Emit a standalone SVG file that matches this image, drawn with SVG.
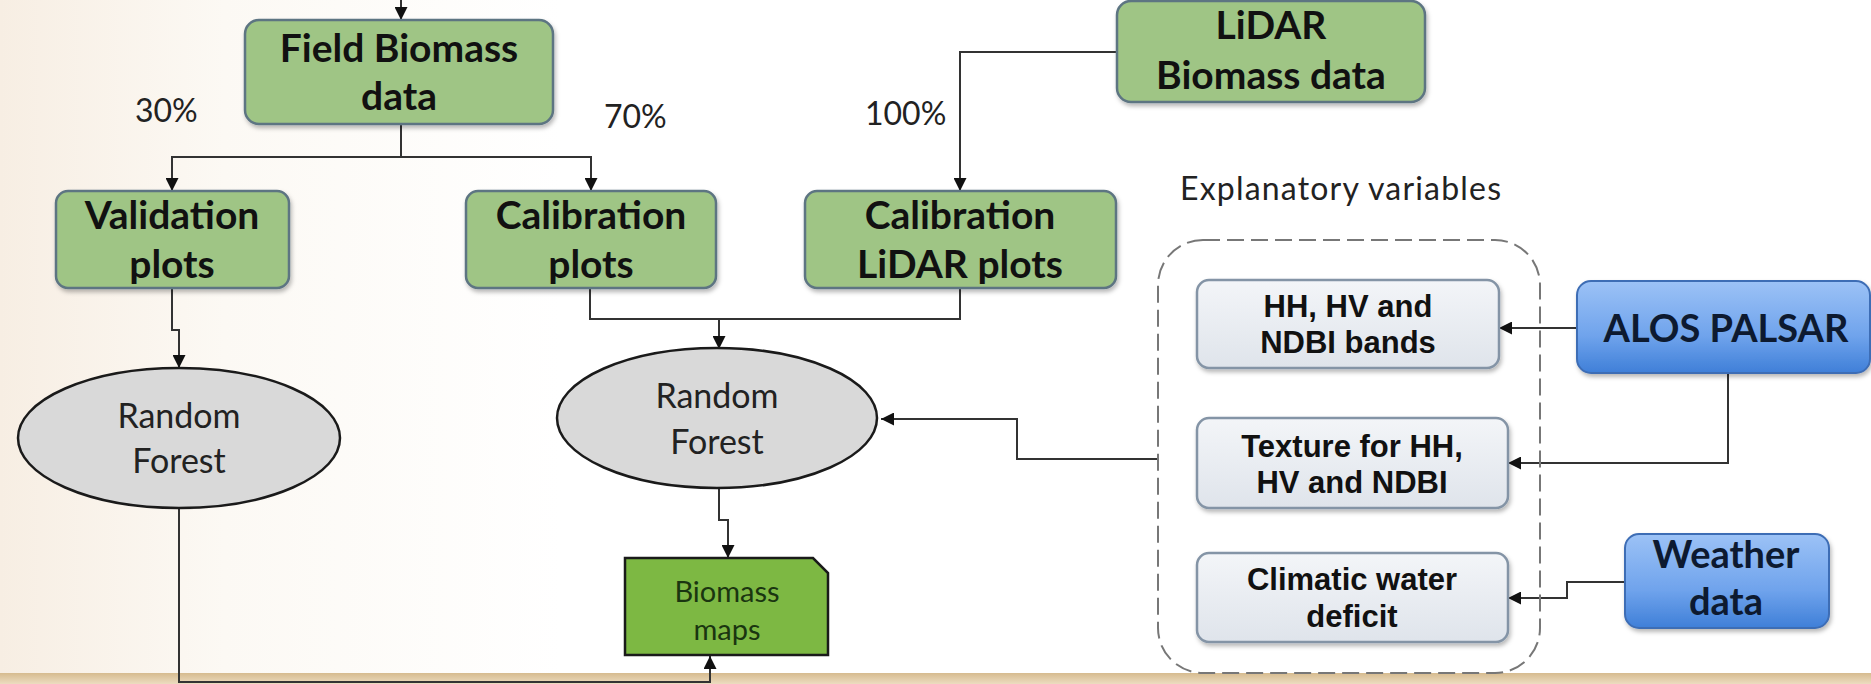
<svg xmlns="http://www.w3.org/2000/svg" width="1871" height="684" viewBox="0 0 1871 684">
<defs>
<linearGradient id="bg" x1="0" y1="0" x2="1" y2="0">
<stop offset="0" stop-color="#f7eee3"/>
<stop offset="0.12" stop-color="#fcf9f4"/>
<stop offset="0.3" stop-color="#ffffff"/>
<stop offset="1" stop-color="#ffffff"/>
</linearGradient>
<linearGradient id="strip" x1="0" y1="0" x2="0" y2="1">
<stop offset="0" stop-color="#d6bb8f"/>
<stop offset="1" stop-color="#ecdcc0"/>
</linearGradient>
<linearGradient id="blue" x1="0" y1="0" x2="0" y2="1">
<stop offset="0" stop-color="#9cc2f6"/>
<stop offset="0.6" stop-color="#6fa3ec"/>
<stop offset="1" stop-color="#3f7fd8"/>
</linearGradient>
<linearGradient id="grey" x1="0" y1="0" x2="0" y2="1">
<stop offset="0" stop-color="#f3f5f8"/>
<stop offset="1" stop-color="#dfe4eb"/>
</linearGradient>
<filter id="sh" x="-10%" y="-10%" width="120%" height="130%">
<feDropShadow dx="1.5" dy="3" stdDeviation="2" flood-color="#000" flood-opacity="0.28"/>
</filter>
<marker id="ah" markerUnits="userSpaceOnUse" markerWidth="14" markerHeight="13" refX="13" refY="6.5" orient="auto">
<path d="M0,0 L13,6.5 L0,13 Z" fill="#111"/>
</marker>
</defs>
<style>
.gbox{fill:#9fc585;stroke:#5d7482;stroke-width:2.5;filter:url(#sh)}
.lbox{fill:url(#grey);stroke:#8494a6;stroke-width:2.5;filter:url(#sh)}
.bbox{fill:url(#blue);stroke:#3e6db5;stroke-width:2;filter:url(#sh)}
.ell{fill:#d9d9d9;stroke:#1a1a1a;stroke-width:2.5}
.gt{font-family:Lato,"Open Sans",sans-serif;font-weight:700;font-size:39px;fill:#111;text-anchor:middle}
.bt{font-family:Lato,"Open Sans",sans-serif;font-weight:700;font-size:38px;fill:#0d1a30;text-anchor:middle}
.at{font-family:"Liberation Sans",Arial,sans-serif;font-weight:700;font-size:31px;fill:#111;text-anchor:middle}
.rt{font-family:Lato,"Open Sans",sans-serif;font-size:34px;fill:#222;text-anchor:middle}
.pt{font-family:Lato,"Open Sans",sans-serif;font-size:32px;fill:#222}
.mt{font-family:Lato,"Open Sans",sans-serif;font-size:29px;fill:#1a3510;text-anchor:middle}
.con{fill:none;stroke:#333;stroke-width:2}
</style>
<rect x="0" y="0" width="1871" height="684" fill="url(#bg)"/>
<rect x="0" y="673" width="1871" height="11" fill="url(#strip)"/>

<g id="connectors">
<path class="con" d="M401,0 V20" marker-end="url(#ah)"/>
<path class="con" d="M401,124 V157 H172 V191" marker-end="url(#ah)"/>
<path class="con" d="M401,157 H591 V191" marker-end="url(#ah)"/>
<path class="con" d="M1117,52 H960 V191" marker-end="url(#ah)"/>
<path class="con" d="M172,288 V330 H179 V368" marker-end="url(#ah)"/>
<path class="con" d="M590,288 V319 H960 V288"/>
<path class="con" d="M719,319 V349" marker-end="url(#ah)"/>
<path class="con" d="M1157,459 H1017 V419 H881" marker-end="url(#ah)"/>
<path class="con" d="M719,488 V520 H728 V558" marker-end="url(#ah)"/>
<path class="con" d="M179,508 V682 H710 V656" marker-end="url(#ah)"/>
<path class="con" d="M1576,328 H1499" marker-end="url(#ah)"/>
<path class="con" d="M1728,373 V463 H1508" marker-end="url(#ah)"/>
<path class="con" d="M1625,582 H1567 V598 H1508" marker-end="url(#ah)"/>
</g>

<g id="field-biomass">
<rect class="gbox" x="245" y="20" width="308" height="104" rx="14"/>
<text class="gt" x="399" y="62">Field Biomass</text>
<text class="gt" x="399" y="110">data</text>
</g>
<g id="label-30"><text class="pt" x="135" y="122">30%</text></g>
<g id="label-70"><text class="pt" x="604" y="128">70%</text></g>
<g id="label-100"><text class="pt" x="865" y="125">100%</text></g>

<g id="validation-plots">
<rect class="gbox" x="56" y="191" width="233" height="97" rx="12"/>
<text class="gt" x="172" y="229">Validation</text>
<text class="gt" x="172" y="278">plots</text>
</g>
<g id="calibration-plots">
<rect class="gbox" x="466" y="191" width="250" height="97" rx="12"/>
<text class="gt" x="591" y="229">Calibration</text>
<text class="gt" x="591" y="278">plots</text>
</g>
<g id="calibration-lidar-plots">
<rect class="gbox" x="805" y="191" width="311" height="97" rx="12"/>
<text class="gt" x="960" y="229">Calibration</text>
<text class="gt" x="960" y="278">LiDAR plots</text>
</g>
<g id="lidar-biomass">
<rect class="gbox" x="1117" y="1" width="308" height="101" rx="14"/>
<text class="gt" x="1271" y="39">LiDAR</text>
<text class="gt" x="1271" y="89">Biomass data</text>
</g>

<g id="random-forest-1">
<ellipse class="ell" cx="179" cy="438" rx="161" ry="70"/>
<text class="rt" x="179" y="428">Random</text>
<text class="rt" x="179" y="473">Forest</text>
</g>
<g id="random-forest-2">
<ellipse class="ell" cx="717" cy="418" rx="160" ry="70"/>
<text class="rt" x="717" y="408">Random</text>
<text class="rt" x="717" y="454">Forest</text>
</g>
<g id="biomass-maps">
<path d="M625,558 H813 L828,573 V655 H625 Z" fill="#7db843" stroke="#1a1a1a" stroke-width="2.5"/>
<text class="mt" x="727" y="602">Biomass</text>
<text class="mt" x="727" y="640">maps</text>
</g>

<g id="explanatory-variables">
<text class="pt" x="1180" y="200" style="font-size:32px" textLength="321">Explanatory variables</text>
<rect x="1158" y="240" width="382" height="433" rx="45" fill="none" stroke="#777" stroke-width="2" stroke-dasharray="17,7"/>
</g>
<g id="hh-hv-ndbi">
<rect class="lbox" x="1197" y="280" width="302" height="88" rx="12"/>
<text class="at" x="1348" y="317">HH, HV and</text>
<text class="at" x="1348" y="353">NDBI bands</text>
</g>
<g id="texture">
<rect class="lbox" x="1197" y="418" width="311" height="90" rx="12"/>
<text class="at" x="1352" y="457">Texture for HH,</text>
<text class="at" x="1352" y="493">HV and NDBI</text>
</g>
<g id="climatic-water-deficit">
<rect class="lbox" x="1197" y="553" width="311" height="89" rx="12"/>
<text class="at" x="1352" y="590">Climatic water</text>
<text class="at" x="1352" y="627">deficit</text>
</g>
<g id="alos-palsar">
<rect class="bbox" x="1577" y="281" width="293" height="92" rx="14"/>
<text class="bt" x="1726" y="342">ALOS PALSAR</text>
</g>
<g id="weather-data">
<rect class="bbox" x="1625" y="534" width="204" height="94" rx="14"/>
<text class="bt" x="1726" y="568">Weather</text>
<text class="bt" x="1726" y="615">data</text>
</g>
</svg>
